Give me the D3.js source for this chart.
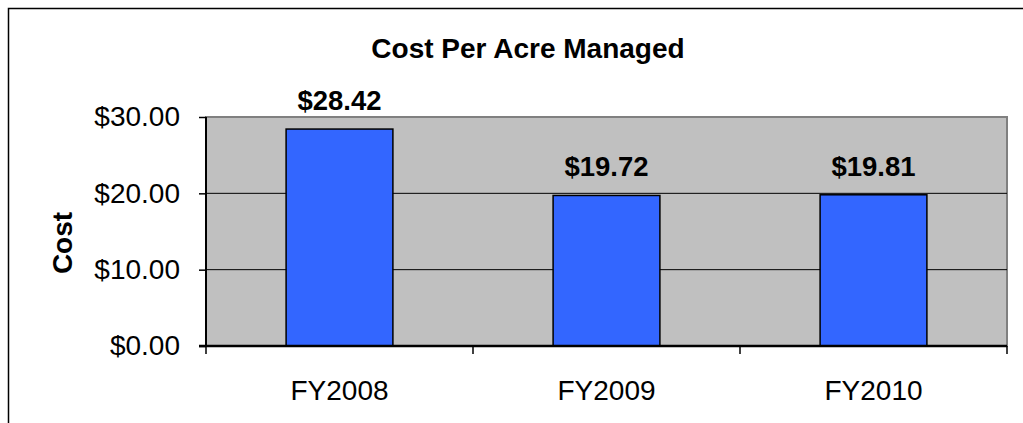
<!DOCTYPE html>
<html>
<head>
<meta charset="utf-8">
<script src="https://cdn.jsdelivr.net/npm/d3@7"></script>
<style>
html,body{margin:0;padding:0;background:#fff;}
svg{display:block;font-family:"Liberation Sans",Arial,sans-serif;}
</style>
</head>
<body>
<svg id="chart" width="1023" height="423"></svg>
<script>
const categories = ["FY2008", "FY2009", "FY2010"];
const values = [28.42, 19.72, 19.81];
const valueLabels = ["$28.42", "$19.72", "$19.81"];
const yTicks = [0, 10, 20, 30];
const title = "Cost Per Acre Managed";
const yTitle = "Cost";

const svg = d3.select("#chart");
const W = 1023, H = 423;
const m = {left: 206, top: 117, right: 1007, bottom: 346};

svg.append("rect").attr("x", 8.5).attr("y", 8.5).attr("width", W + 20).attr("height", H + 20)
  .attr("fill", "#fff").attr("stroke", "#000").attr("stroke-width", 1.5);

const x = d3.scaleBand().domain(categories).range([m.left, m.right]).paddingInner(0.6).paddingOuter(0.3);
const y = d3.scaleLinear().domain([0, 30]).range([m.bottom, m.top]);

// plot area
svg.append("rect").attr("x", m.left).attr("y", m.top).attr("width", m.right - m.left).attr("height", m.bottom - m.top)
  .attr("fill", "#c0c0c0").attr("stroke", "#808080").attr("stroke-width", 2);

// gridlines
svg.append("g").selectAll("line").data(yTicks.filter(t => t > 0 && t < 30)).join("line")
  .attr("x1", m.left).attr("x2", m.right).attr("y1", d => y(d)).attr("y2", d => y(d))
  .attr("stroke", "#000").attr("stroke-width", 1);

// bars
svg.append("g").selectAll("rect").data(values).join("rect")
  .attr("x", (d, i) => x(categories[i])).attr("width", x.bandwidth())
  .attr("y", d => y(d)).attr("height", d => y(0) - y(d))
  .attr("fill", "#3366ff").attr("stroke", "#000").attr("stroke-width", 1.5);

// y axis
const yAxis = svg.append("g").attr("transform", `translate(${m.left},0)`)
  .call(d3.axisLeft(y).tickValues(yTicks).tickSize(7).tickPadding(19).tickFormat(d => "$" + d3.format(".2f")(d)));
yAxis.select(".domain").attr("stroke", "#000").attr("stroke-width", 2).attr("d", `M0,${m.top}V${m.bottom}`);
yAxis.selectAll(".tick line").attr("stroke", "#000").attr("stroke-width", 1.5);
yAxis.selectAll(".tick text").attr("font-size", 28).attr("fill", "#000").attr("font-family", "Liberation Sans, Arial, sans-serif");

// x axis with ticks at category boundaries
const boundaries = [m.left, ...categories.slice(1).map(c => x(c) - x.step() * x.paddingInner() / 2), m.right];
const xg = svg.append("g");
xg.append("line").attr("x1", m.left - 7).attr("x2", m.right).attr("y1", m.bottom).attr("y2", m.bottom)
  .attr("stroke", "#000").attr("stroke-width", 2.5);
xg.selectAll("line.t").data(boundaries).join("line").attr("class", "t")
  .attr("x1", d => d).attr("x2", d => d).attr("y1", m.bottom).attr("y2", m.bottom + 8)
  .attr("stroke", "#000").attr("stroke-width", 1.5);
xg.selectAll("text").data(categories).join("text")
  .attr("x", d => x(d) + x.bandwidth() / 2).attr("y", 400)
  .attr("text-anchor", "middle").attr("font-size", 28).text(d => d);

// value labels
svg.append("g").selectAll("text").data(values).join("text")
  .attr("x", (d, i) => x(categories[i]) + x.bandwidth() / 2)
  .attr("y", d => y(d) - 19)
  .attr("text-anchor", "middle").attr("font-size", 27.5).attr("font-weight", "bold")
  .text((d, i) => valueLabels[i]);

// title
svg.append("text").attr("x", 528).attr("y", 58).attr("text-anchor", "middle")
  .attr("font-size", 28).attr("font-weight", "bold").text(title);

// y title
svg.append("text").attr("transform", `translate(72,243) rotate(-90)`).attr("text-anchor", "middle")
  .attr("font-size", 28).attr("font-weight", "bold").text(yTitle);
</script>
</body>
</html>
